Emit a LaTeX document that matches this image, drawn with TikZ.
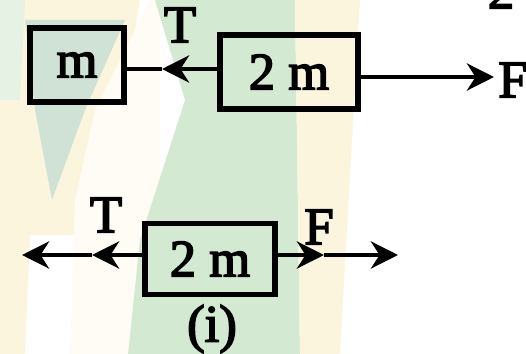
\documentclass[tikz,border=0pt]{standalone}
\usepackage{fontspec}
\setmainfont{Liberation Serif}
\newfontfamily\diagfont{Liberation Serif}[FakeBold=3]
\usetikzlibrary{arrows.meta}
\definecolor{wgreen}{RGB}{212,233,210}
\definecolor{wgrey}{RGB}{208,226,214}
\definecolor{wbeige}{RGB}{252,245,222}
\begin{document}
\begin{tikzpicture}[x=0.02cm,y=-0.02cm,
  blk/.style={draw=black,line width=3pt,minimum height=1.48cm,inner sep=0pt,font=\diagfont\fontsize{30}{33}\selectfont},
  lbl/.style={inner sep=0pt,font=\diagfont\fontsize{30}{33}\selectfont},
  rope/.style={line width=2.8pt},
  tip/.style={-{Stealth[length=0.54cm,width=0.54cm,inset=0.17cm]}}]
\useasboundingbox (0,0) rectangle (526,354);
% soft watercolour background
\fill[wbeige] (0,0) -- (140,0) -- (120,120) -- (110,235) -- (0,235) -- cycle;
\fill[wgreen!60!white] (0,0) -- (25,0) -- (20,100) -- (0,100) -- cycle;
\fill[wgrey] (25,20) -- (125,20) -- (85,110) -- (52,200) -- (35,110) -- cycle;
\fill[white!70!wbeige] (75,200) -- (95,110) -- (150,0) -- (160,0) -- (160,354) -- (70,354) -- cycle;
\fill[wbeige] (0,235) -- (30,235) -- (25,354) -- (0,354) -- cycle;
\fill[wgreen] (155,0) -- (295,0) -- (300,354) -- (128,354) -- (140,240) -- (185,100) -- cycle;
\fill[wbeige] (295,0) -- (360,0) -- (340,354) -- (300,354) -- cycle;
% top row
\node[blk,minimum width=1.88cm] (m1) at (77,65) {m};
\node[blk,minimum width=2.76cm] (b2) at (289,72) {2 m};
\coordinate (tT) at (162,69);
\coordinate (fTip) at (494,77);
\draw[rope,tip] (b2.west |- tT) -- (tT);
\draw[rope] (tT) -- (m1.east |- tT);
\draw[rope,tip] (b2.east |- fTip) -- (fTip);
\node[lbl] (T1) at (180,25) {T};
\node[lbl] (F1) at (513,80) {F};
\node[lbl] (two) at (501,-9) {2};
% bottom row
\node[blk,minimum width=2.6cm,minimum height=1.42cm] (b3) at (210,259) {2 m};
\coordinate (mL) at (92,255);
\coordinate (eL) at (22,255);
\coordinate (mR) at (324,255);
\coordinate (eR) at (398,255);
\draw[rope,tip] (b3.west |- mL) -- (mL);
\draw[rope,tip] (mL) -- (eL);
\draw[rope,tip] (b3.east |- mR) -- (mR);
\draw[rope,tip] (mR) -- (eR);
\node[lbl] (T2) at (106,215) {T};
\node[lbl] (F2) at (319,227) {F};
\node[lbl] (cap) at (212,329) {(i)};
\end{tikzpicture}
\end{document}
